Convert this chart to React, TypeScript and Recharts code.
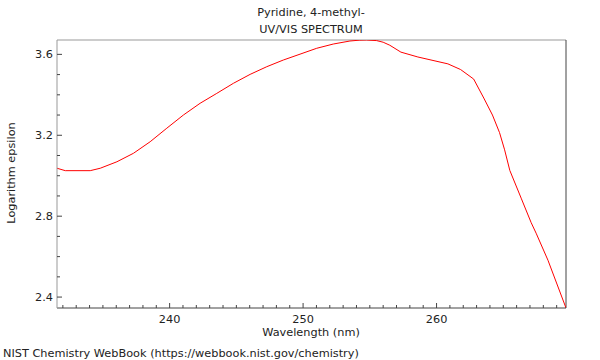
import React from "react";
import { LineChart, Line, XAxis, YAxis, ReferenceLine } from "recharts";

const wavelengths = [
  231.56, 232.18, 234.05, 234.8, 236.05, 237.29, 238.54, 239.79, 241.03, 242.28,
  243.53, 244.78, 246.03, 247.28, 248.52, 249.77, 251.02, 252.26, 253.51, 254.2,
  254.76, 255.51, 256.0, 256.5, 257.33, 258.6, 260.85, 261.8, 262.78, 263.54,
  264.19, 264.72, 265.1, 265.49, 266.34, 267.09, 267.46, 268.35, 269.7,
];
const logEpsilon = [
  3.037, 3.025, 3.025, 3.037, 3.069, 3.111, 3.168, 3.235, 3.3, 3.358,
  3.407, 3.457, 3.501, 3.539, 3.572, 3.601, 3.63, 3.651, 3.666, 3.67,
  3.671, 3.668, 3.66, 3.645, 3.611, 3.587, 3.553, 3.525, 3.478, 3.384,
  3.3, 3.213, 3.128, 3.026, 2.889, 2.768, 2.716, 2.582, 2.346,
];
const xTicks = [
  232, 233, 234, 235, 236, 237, 238, 239, 240, 241, 242, 243, 244, 245, 246, 247,
  248, 249, 250, 251, 252, 253, 254, 255, 256, 257, 258, 259, 260, 261, 262, 263,
  264, 265, 266, 267, 268, 269,
];
const xMajor = [240, 250, 260];
const yTicks = [2.4, 2.5, 2.6, 2.7, 2.8, 2.9, 3.0, 3.1, 3.2, 3.3, 3.4, 3.5, 3.6];
const yMajor = [2.4, 2.8, 3.2, 3.6];
const xDomain = [231.56, 269.7];
const yDomain = [2.346, 3.671];

const data = wavelengths.map((w, i) => ({ w, v: logEpsilon[i] }));

const FONT = "'DejaVu Sans', sans-serif";
const FS = 11.3;

const XTick = (props: any) => {
  const { x, y, payload } = props;
  const major = xMajor.includes(payload.value);
  return (
    <g>
      <line x1={x} y1={y} x2={x} y2={y - (major ? 5 : 3)} stroke="#444" strokeWidth={1} />
      {major && (
        <text x={x} y={y + 15} textAnchor="middle" fontSize={FS} fontFamily={FONT} fill="#222">
          {payload.value}
        </text>
      )}
    </g>
  );
};

const YTick = (props: any) => {
  const { x, y, payload } = props;
  const major = yMajor.some((m) => Math.abs(m - payload.value) < 1e-6);
  return (
    <g>
      <line x1={x} y1={y} x2={x + (major ? 5 : 3)} y2={y} stroke="#444" strokeWidth={1} />
      {major && (
        <text x={x - 4} y={y + 4} textAnchor="end" fontSize={FS} fontFamily={FONT} fill="#222">
          {payload.value.toFixed(1)}
        </text>
      )}
    </g>
  );
};

export default function App() {
  return (
    <div style={{ position: "absolute", left: 0, top: 0, width: 600, height: 360, background: "#fff" }}>
      <LineChart width={600} height={360} data={data} margin={{ top: 40, right: 34, bottom: 0, left: 0 }}>
        <XAxis
          dataKey="w"
          type="number"
          domain={xDomain}
          ticks={xTicks}
          interval={0}
          allowDataOverflow
          height={52}
          tickSize={0}
          tickMargin={0}
          tickLine={false}
          axisLine={{ stroke: "#444", strokeWidth: 1 }}
          tick={<XTick />}
        />
        <YAxis
          type="number"
          domain={yDomain}
          ticks={yTicks}
          interval={0}
          allowDataOverflow
          width={57}
          tickSize={0}
          tickMargin={0}
          tickLine={false}
          axisLine={{ stroke: "#999", strokeWidth: 1 }}
          tick={<YTick />}
        />
        <ReferenceLine y={yDomain[1]} stroke="#999" strokeWidth={1} ifOverflow="extendDomain" />
        <ReferenceLine x={xDomain[1]} stroke="#444" strokeWidth={1} ifOverflow="extendDomain" />
        <Line
          dataKey="v"
          type="linear"
          stroke="#ff0000"
          strokeWidth={1}
          dot={false}
          activeDot={false}
          isAnimationActive={false}
        />
      </LineChart>
      <svg
        width={600}
        height={360}
        style={{ position: "absolute", left: 0, top: 0, pointerEvents: "none" }}
        fontFamily={FONT}
        fontSize={FS}
      >
        <text x={311} y={16} textAnchor="middle" fill="#222">Pyridine, 4-methyl-</text>
        <text x={311} y={33} textAnchor="middle" fill="#222">UV/VIS SPECTRUM</text>
        <text x={311} y={336} textAnchor="middle" fill="#222">Wavelength (nm)</text>
        <text x={3} y={357} textAnchor="start" fill="#222">NIST Chemistry WebBook (https://webbook.nist.gov/chemistry)</text>
        <text x={15} y={173} textAnchor="middle" fill="#222" transform="rotate(-90 15 173)">Logarithm epsilon</text>
      </svg>
    </div>
  );
}
